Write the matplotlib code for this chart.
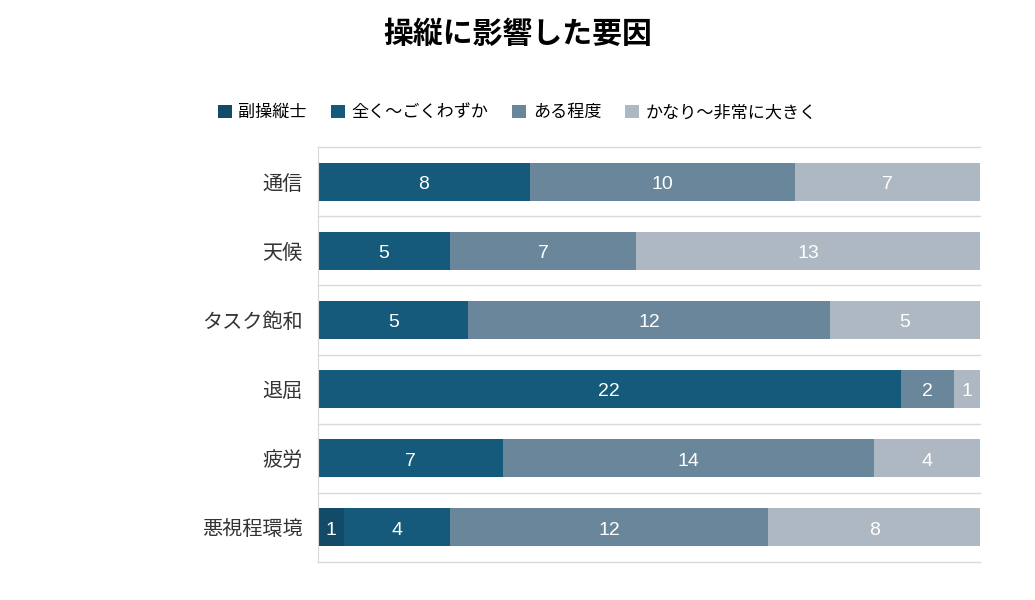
import matplotlib.pyplot as plt
import numpy as np

plt.rcParams['font.family'] = ['Noto Sans CJK JP', 'DejaVu Sans']

# data
categories = ["通信", "天候", "タスク飽和", "退屈", "疲労", "悪視程環境"]
series_names = ["副操縦士", "全く～ごくわずか", "ある程度", "かなり～非常に大きく"]
copilot = [0, 0, 0, 0, 0, 1]
little = [8, 5, 5, 22, 7, 4]
some = [10, 7, 12, 2, 14, 12]
great = [7, 13, 5, 1, 4, 8]

colors = ["#114b68", "#155a7a", "#6a869a", "#adb8c2"]

values = np.array([copilot, little, some, great], dtype=float)
totals = values.sum(axis=0)
shares = values / totals  # 100% stacked

fig = plt.figure(figsize=(10.35, 6), dpi=100)
ax = fig.add_axes([0.3072, 0.0633, 0.6397, 0.6917])

y = np.arange(len(categories))
left = np.zeros(len(categories))
for i, name in enumerate(series_names):
    ax.barh(y, shares[i], left=left, height=0.55, color=colors[i], label=name)
    for j in range(len(categories)):
        if values[i, j] > 0:
            ax.annotate(f"{int(values[i, j])}", (left[j] + shares[i, j] / 2, y[j]),
                        xytext=(0, -2), textcoords="offset points",
                        ha="center", va="center", color="white", fontsize=14,
                        family="Liberation Sans")
    left += shares[i]

ax.set_xlim(0, 1)
ax.set_ylim(len(categories) - 0.5, -0.5)
ax.set_yticks(y)
ax.set_yticklabels(categories, fontsize=14.5, color="#333333")
ax.tick_params(axis="y", length=0, pad=11)
ax.set_xticks([])

# light lines between the rows
for b in np.arange(len(categories) + 1) - 0.5:
    ax.axhline(b, color="#d9d9d9", linewidth=1, zorder=0, clip_on=False)

for side in ["top", "right", "bottom"]:
    ax.spines[side].set_visible(False)
ax.spines["left"].set_color("#d9d9d9")

fig.suptitle("操縦に影響した要因", x=0.5, y=0.968, fontsize=21.5, fontweight="bold")
fig.legend(loc="center", bbox_to_anchor=(0.5, 0.813), ncol=4, frameon=False,
           fontsize=12.3, handlelength=0.8, handleheight=0.8, handletextpad=0.4,
           columnspacing=1.4)

plt.savefig("out.png", dpi=100)
